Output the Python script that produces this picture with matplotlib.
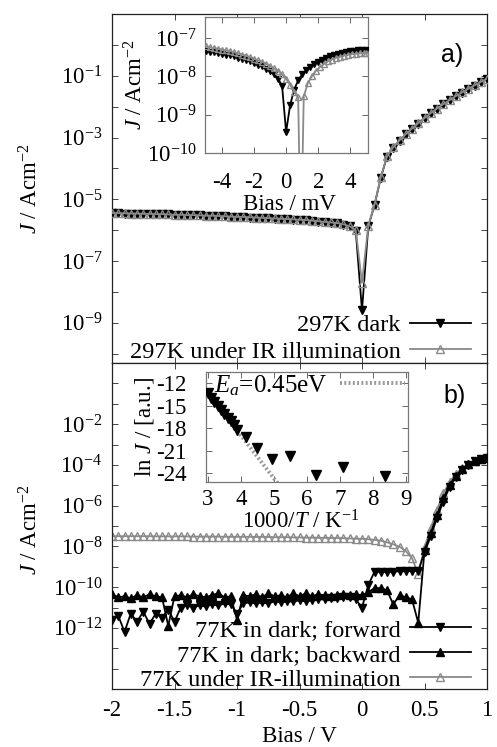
import numpy as np
import matplotlib
matplotlib.use('Agg')
import matplotlib.pyplot as plt
from matplotlib.ticker import FixedLocator, FixedFormatter, NullLocator

plt.rcParams['font.family'] = ['Liberation Serif', 'DejaVu Serif']
plt.rcParams['mathtext.fontset'] = 'custom'
plt.rcParams['mathtext.rm'] = 'Liberation Serif'
plt.rcParams['mathtext.it'] = 'Liberation Serif:italic'
plt.rcParams['mathtext.bf'] = 'Liberation Serif:bold'
plt.rcParams['axes.unicode_minus'] = False

# ---------------- data ----------------
bias_V = [-2.00, -1.95, -1.90, -1.85, -1.80, -1.75, -1.70, -1.65, -1.60, -1.55,
          -1.50, -1.45, -1.40, -1.35, -1.30, -1.25, -1.20, -1.15, -1.10, -1.05,
          -1.00, -0.95, -0.90, -0.85, -0.80, -0.75, -0.70, -0.65, -0.60, -0.55,
          -0.50, -0.45, -0.40, -0.35, -0.30, -0.25, -0.20, -0.15, -0.10, -0.05,
          0.00, 0.05, 0.10, 0.15, 0.20, 0.25, 0.30, 0.35, 0.40, 0.45,
          0.50, 0.55, 0.60, 0.65, 0.70, 0.75, 0.80, 0.85, 0.90, 0.95, 1.00]

# 297 K, log10(J)
log_j297_dark = [-5.45, -5.45, -5.46, -5.46, -5.47, -5.47, -5.48, -5.48, -5.49, -5.49,
                 -5.50, -5.50, -5.51, -5.52, -5.52, -5.53, -5.54, -5.54, -5.55, -5.56,
                 -5.57, -5.58, -5.59, -5.60, -5.61, -5.62, -5.63, -5.64, -5.65, -5.66,
                 -5.67, -5.68, -5.70, -5.72, -5.74, -5.76, -5.78, -5.82, -5.88, -6.02,
                 -8.60, -5.88, -5.19, -4.30, -3.62, -3.33, -3.10, -2.90, -2.72, -2.55,
                 -2.38, -2.22, -2.07, -1.93, -1.80, -1.67, -1.55, -1.43, -1.32, -1.21, -1.10]
log_j297_ir = [-5.44, -5.45, -5.45, -5.46, -5.46, -5.47, -5.47, -5.48, -5.48, -5.49,
               -5.50, -5.50, -5.51, -5.51, -5.52, -5.53, -5.53, -5.54, -5.55, -5.56,
               -5.57, -5.57, -5.58, -5.59, -5.60, -5.61, -5.62, -5.63, -5.64, -5.65,
               -5.66, -5.67, -5.69, -5.71, -5.73, -5.75, -5.77, -5.81, -5.87, -6.00,
               -7.70, -5.86, -5.18, -4.29, -3.61, -3.32, -3.09, -2.89, -2.71, -2.54,
               -2.37, -2.21, -2.06, -1.92, -1.79, -1.66, -1.54, -1.42, -1.31, -1.20, -1.09]

# 77 K, log10(J)
log_j77_fwd = [-11.6, -11.4, -12.2, -11.3, -11.7, -11.2, -11.8, -11.3, -11.5, -11.1,
               -11.7, -11.0, -10.9, -11.0, -10.9, -10.95, -10.85, -10.9, -10.8, -10.85,
               -11.3, -10.8, -10.75, -10.8, -10.75, -10.8, -10.7, -10.75, -10.7, -10.7,
               -10.65, -10.7, -10.65, -10.6, -10.6, -10.55, -10.55, -10.5, -10.5, -10.6,
               -11.0, -9.9, -9.25, -9.25, -9.25, -9.24, -9.22, -9.22, -9.21, -9.20,
               -8.30, -7.50, -6.60, -5.80, -5.10, -4.60, -4.25, -4.00, -3.83, -3.72, -3.65]
log_j77_bwd = [-10.35, -10.5, -10.45, -10.55, -10.4, -10.5, -10.35, -10.45, -10.5, -11.9,
               -10.45, -10.4, -10.5, -10.35, -10.45, -10.5, -10.4, -10.3, -10.5, -10.45,
               -11.6, -10.4, -10.45, -10.35, -10.5, -10.3, -10.45, -10.4, -10.5, -10.3,
               -10.45, -10.3, -10.45, -10.35, -10.4, -10.45, -10.4, -10.35, -10.4, -10.35,
               -10.4, -10.25, -10.05, -10.05, -10.15, -10.85, -10.4, -10.5, -10.6, -11.75,
               -8.20, -7.35, -6.45, -5.65, -5.00, -4.55, -4.22, -3.98, -3.82, -3.71, -3.64]
log_j77_ir = [-7.50, -7.50, -7.50, -7.50, -7.50, -7.50, -7.50, -7.51, -7.51, -7.51,
              -7.51, -7.51, -7.51, -7.52, -7.52, -7.52, -7.52, -7.52, -7.53, -7.53,
              -7.53, -7.53, -7.53, -7.54, -7.54, -7.54, -7.55, -7.55, -7.55, -7.56,
              -7.56, -7.57, -7.57, -7.58, -7.58, -7.59, -7.59, -7.60, -7.61, -7.62,
              -7.63, -7.65, -7.68, -7.72, -7.80, -7.90, -8.02, -8.22, -8.58, -9.35,
              -8.05, -7.10, -6.20, -5.40, -4.85, -4.45, -4.15, -3.95, -3.80, -3.70, -3.63]

# inset a: small bias (mV)
bias_mV_dark = [-5.0, -4.75, -4.5, -4.25, -4.0, -3.75, -3.5, -3.25, -3.0, -2.75,
                -2.5, -2.25, -2.0, -1.75, -1.5, -1.25, -1.0, -0.75, -0.5, -0.25,
                0.0, 0.25, 0.5, 0.75, 1.0, 1.25, 1.5, 1.75, 2.0, 2.25,
                2.5, 2.75, 3.0, 3.25, 3.5, 3.75, 4.0, 4.25, 4.5, 4.75, 5.0]
log_jmv_dark = [-7.35, -7.36, -7.37, -7.39, -7.41, -7.43, -7.45, -7.48, -7.51, -7.54,
                -7.57, -7.61, -7.65, -7.69, -7.74, -7.80, -7.87, -7.95, -8.06, -8.25,
                -9.45, -8.75, -8.35, -8.10, -7.95, -7.84, -7.75, -7.68, -7.62, -7.57,
                -7.52, -7.48, -7.45, -7.42, -7.39, -7.37, -7.35, -7.33, -7.32, -7.31, -7.30]
bias_mV_ir = [-5.0, -4.75, -4.5, -4.25, -4.0, -3.75, -3.5, -3.25, -3.0, -2.75,
              -2.5, -2.25, -2.0, -1.75, -1.5, -1.25, -1.0, -0.75, -0.5, -0.25,
              0.0, 0.25, 0.5, 0.75, 0.92, 1.1, 1.35, 1.6, 1.85, 2.1,
              2.35, 2.6, 2.85, 3.1, 3.35, 3.6, 3.85, 4.1, 4.35, 4.6, 4.85, 5.0]
log_jmv_ir = [-7.22, -7.24, -7.26, -7.28, -7.30, -7.32, -7.34, -7.37, -7.40, -7.43,
              -7.46, -7.50, -7.54, -7.58, -7.62, -7.67, -7.73, -7.79, -7.86, -7.95,
              -8.06, -8.22, -8.40, -8.55, -12.5, -8.52, -8.18, -8.00, -7.86, -7.76,
              -7.68, -7.61, -7.56, -7.52, -7.49, -7.46, -7.44, -7.42, -7.41, -7.40, -7.39, -7.38]

# inset b: Arrhenius
inv_T = [3.0, 3.1, 3.2, 3.3, 3.4, 3.5, 3.6, 3.7, 3.8, 3.9, 4.17, 4.5, 4.95, 5.5, 6.28, 7.1, 8.35]
ln_J = [-13.3, -14.0, -14.5, -15.0, -15.6, -16.1, -16.6, -17.1, -17.6, -18.2,
        -19.2, -20.7, -22.1, -21.7, -24.3, -23.2, -24.4]
fit_x = [2.95, 5.12]
fit_y = [-12.9, -25.4]

V = np.array(bias_V)
p = lambda a: 10.0 ** np.array(a)

GRAY = '#8a8a8a'
FS = 16.5
LFS = 17.5

fig = plt.figure(figsize=(4.97, 7.47), dpi=100)

def style_main(ax):
    for s in ax.spines.values():
        s.set_color('#222222')
        s.set_linewidth(0.9)
    ax.tick_params(which='both', direction='in', top=True, right=True,
                   length=4.5, width=0.7, labelsize=FS, color='#444444')
    ax.set_xlim(-2, 1)
    ax.xaxis.set_major_locator(FixedLocator([-2, -1.5, -1, -0.5, 0, 0.5, 1]))
    ax.xaxis.set_minor_locator(NullLocator())

# ---------- panel a ----------
ax1 = fig.add_axes([112/497, 1-363/747, 375/497, 349/747])
ax1.set_yscale('log')
ax1.set_ylim(10**-10.3, 10**1)
style_main(ax1)
ax1.plot(V, p(log_j297_dark), color='black', lw=1.3, marker='v', ms=5.5,
         mfc='black', mec='black', label='297K dark', zorder=3)
ax1.plot(V, p(log_j297_ir), color=GRAY, lw=1.3, marker='^', ms=5.5,
         mfc='none', mec=GRAY, mew=1.0, label='297K under IR illumination', zorder=4)
ax1.yaxis.set_major_locator(FixedLocator([10.0**k for k in range(-10, 2)]))
ax1.yaxis.set_major_formatter(FixedFormatter(
    [r'$10^{%d}$' % k if (k % 2 != 0 and k < 0) else '' for k in range(-10, 2)]))
ax1.yaxis.set_minor_locator(NullLocator())
ax1.tick_params(axis='x', labelbottom=False)
ax1.tick_params(axis='y', pad=7)
ax1.set_ylabel(r'$J$ / Acm$^{-2}$', fontsize=FS)
ax1.yaxis.set_label_coords(-0.185, 0.5)
fig.text(452/497, 1-55/747, 'a)', fontsize=18, family='Liberation Sans',
         ha='center', va='center')
ax1.legend(loc='lower right', bbox_to_anchor=(0.957, 0.0), frameon=False,
           markerfirst=False, fontsize=LFS, handlelength=2.5, handletextpad=0.4,
           labelspacing=0.2, borderpad=0, borderaxespad=0)

# ---------- panel b ----------
ax2 = fig.add_axes([112/497, 1-689/747, 375/497, 326/747])
ax2.set_yscale('log')
ax2.set_ylim(1e-15, 1e1)
style_main(ax2)
ax2.plot(V, p(log_j77_fwd), color='black', lw=1.3, marker='v', ms=5.5,
         mfc='black', mec='black', label='77K in dark; forward', zorder=4)
ax2.plot(V, p(log_j77_bwd), color='black', lw=1.3, marker='^', ms=5.5,
         mfc='black', mec='black', label='77K in dark; backward', zorder=3)
ax2.plot(V, p(log_j77_ir), color=GRAY, lw=1.3, marker='^', ms=6,
         mfc='none', mec=GRAY, mew=1.0, label='77K under IR-illumination', zorder=2)
ax2.yaxis.set_major_locator(FixedLocator([10.0**k for k in range(-15, 2)]))
ax2.yaxis.set_major_formatter(FixedFormatter(
    [r'$10^{%d}$' % k if (k % 2 == 0 and -12 <= k <= -2) else '' for k in range(-15, 2)]))
ax2.yaxis.set_minor_locator(NullLocator())
ax2.tick_params(axis='y', pad=7)
ax2.tick_params(axis='x', pad=8)
ax2.xaxis.set_major_formatter(FixedFormatter(['-2', '-1.5', '-1', '-0.5', '0', '0.5', '1']))
ax2.set_ylabel(r'$J$ / Acm$^{-2}$', fontsize=FS)
ax2.yaxis.set_label_coords(-0.185, 0.49)
ax2.set_xlabel('Bias / V', fontsize=FS)
ax2.xaxis.set_label_coords(0.5, -0.115)
fig.text(455/497, 1-396/747, 'b)', fontsize=18, family='Liberation Sans',
         ha='center', va='center')
ax2.legend(loc='lower right', bbox_to_anchor=(0.957, -0.005), frameon=False,
           markerfirst=False, fontsize=LFS, handlelength=2.5, handletextpad=0.4,
           labelspacing=0.12, borderpad=0, borderaxespad=0)

def style_inset(ax):
    for s in ax.spines.values():
        s.set_color('#777777')
        s.set_linewidth(0.9)
    ax.tick_params(which='both', direction='in', top=True, right=True,
                   length=4, width=0.7, labelsize=FS, color='#666666')

# ---------- inset a ----------
ax3 = fig.add_axes([205/497, 1-153/747, 163/497, 136/747])
ax3.set_yscale('log')
ax3.set_xlim(-5.05, 5.1)
ax3.set_ylim(1e-10, 10**-6.45)
style_inset(ax3)
ax3.plot(bias_mV_dark, p(log_jmv_dark), color='black', lw=1.3, marker='v', ms=5,
         mfc='black', mec='black', zorder=3)
ax3.plot(bias_mV_ir, p(log_jmv_ir), color=GRAY, lw=1.3, marker='^', ms=5,
         mfc='none', mec=GRAY, mew=1.0, zorder=4)
ax3.xaxis.set_major_locator(FixedLocator([-4, -2, 0, 2, 4]))
ax3.xaxis.set_major_formatter(FixedFormatter(['-4', '-2', '0', '2', '4']))
ax3.yaxis.set_major_locator(FixedLocator([1e-10, 1e-9, 1e-8, 1e-7]))
ax3.yaxis.set_major_formatter(FixedFormatter([r'$10^{-10}$', r'$10^{-9}$', r'$10^{-8}$', r'$10^{-7}$']))
ax3.yaxis.set_minor_locator(NullLocator())
ax3.tick_params(axis='x', pad=14)
ax3.tick_params(axis='y', pad=6)
ax3.set_xlabel('Bias / mV', fontsize=FS)
ax3.xaxis.set_label_coords(0.52, -0.30)
ax3.set_ylabel(r'$J$ / Acm$^{-2}$', fontsize=FS)
ax3.yaxis.set_label_coords(-0.35, 0.5)

# ---------- inset b ----------
ax4 = fig.add_axes([206/497, 1-482/747, 202/497, 110/747])
ax4.set_xlim(2.95, 9.05)
ax4.set_ylim(-25.2, -10.5)
style_inset(ax4)
ax4.plot(fit_x, fit_y, color='#999999', lw=2.8, ls=(0, (0.5, 0.6)),
         label=r'$E_a$=0.45eV', zorder=2)
ax4.plot(inv_T, ln_J, ls='none', marker='v', ms=6.5, mfc='black', mec='black', zorder=3)
ax4.xaxis.set_major_locator(FixedLocator([3, 4, 5, 6, 7, 8, 9]))
ax4.yaxis.set_major_locator(FixedLocator([-24, -21, -18, -15, -12]))
ax4.xaxis.set_major_formatter(FixedFormatter(['3', '4', '5', '6', '7', '8', '9']))
ax4.yaxis.set_major_formatter(FixedFormatter(['-24', '-21', '-18', '-15', '-12']))
ax4.tick_params(axis='x', pad=5)
ax4.tick_params(axis='y', pad=14)
ax4.set_xlabel(r'$1000/T$ / K$^{-1}$', fontsize=FS)
ax4.xaxis.set_label_coords(0.47, -0.26)
ax4.set_ylabel(r'ln $J$ / [a.u.]', fontsize=FS)
ax4.yaxis.set_label_coords(-0.25, 0.5)
ax4.legend(loc='upper right', bbox_to_anchor=(0.985, 0.99), frameon=False, markerfirst=False,
           fontsize=18, handlelength=2.6, handletextpad=0.5, borderpad=0, borderaxespad=0)

fig.savefig('out.png', dpi=100)
